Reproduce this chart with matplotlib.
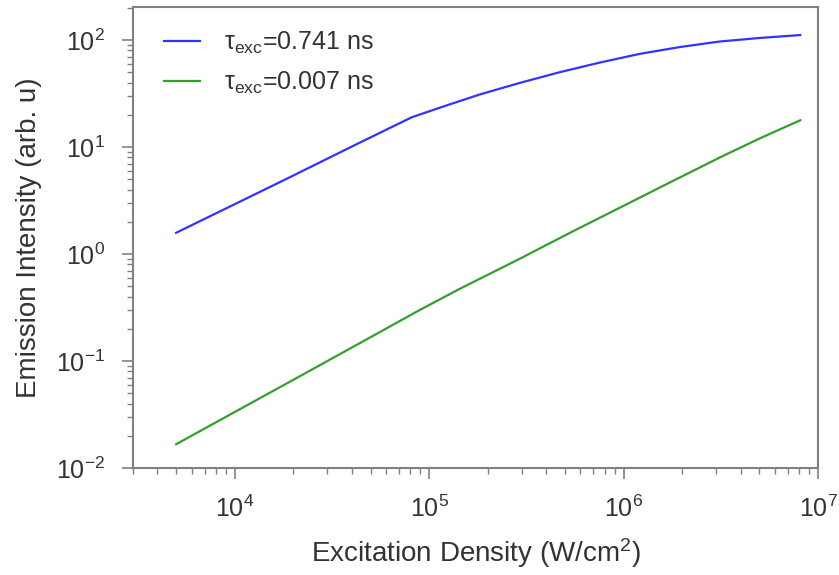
import matplotlib
matplotlib.use("Agg")
import matplotlib.pyplot as plt
from matplotlib.ticker import LogLocator, NullFormatter

plt.rcParams['font.family'] = ['Liberation Sans', 'DejaVu Sans']
plt.rcParams['mathtext.fontset'] = 'custom'
plt.rcParams['mathtext.rm'] = 'Liberation Sans'
plt.rcParams['mathtext.it'] = 'Liberation Sans'
plt.rcParams['mathtext.bf'] = 'Liberation Sans:bold'
plt.rcParams['axes.unicode_minus'] = False

# excitation density (W/cm^2) and emission intensity (arb. u)
dens_long = [5.0e3, 1.83e4, 4.4e4, 8.15e4, 1.14e5, 1.82e5, 2.93e5, 4.7e5,
             7.57e5, 1.22e6, 1.95e6, 3.13e6, 5.04e6, 8.1e6]
emis_long = [1.58, 5.0, 11.0, 19.0, 23.4, 31.0, 39.8, 50.1,
             61.7, 74.5, 86.1, 97.0, 104.7, 111.4]

dens_short = [5.0e3, 2.43e4, 8.95e4, 1.44e5, 2.93e5, 5.3e5, 9.6e5, 1.73e6,
              3.13e6, 5.04e6, 8.1e6]
emis_short = [0.0167, 0.081, 0.30, 0.474, 0.905, 1.58, 2.72, 4.67,
              8.0, 12.1, 17.8]

labels = [r"τ$_{\rm exc}$=0.741 ns", r"τ$_{\rm exc}$=0.007 ns"]
colors = ['#3333ff', '#33a02c']

txt = '#333333'
edge = '#808080'

fig = plt.figure(figsize=(8.39, 5.75), dpi=100)
ax = fig.add_axes([0.1585, 0.186, 0.8165, 0.802])

ax.plot(dens_long, emis_long, color=colors[0], lw=1.6, label=labels[0])
ax.plot(dens_short, emis_short, color=colors[1], lw=1.6, label=labels[1])

ax.set_xscale('log')
ax.set_yscale('log')
ax.set_xlim(3000, 1e7)
ax.set_ylim(1e-2, 10 ** 2.31)

ax.xaxis.set_minor_locator(LogLocator(base=10, subs=range(2, 10), numticks=20))
ax.yaxis.set_minor_locator(LogLocator(base=10, subs=range(2, 10), numticks=20))
ax.xaxis.set_minor_formatter(NullFormatter())
ax.yaxis.set_minor_formatter(NullFormatter())

for s in ax.spines.values():
    s.set_color(edge)
    s.set_linewidth(1.5)
ax.tick_params(which='major', direction='out', length=8, width=1.2,
               color=edge, labelsize=18, labelcolor=txt)
ax.tick_params(axis='x', which='major', pad=12)
ax.tick_params(axis='y', which='major', pad=12)
ax.tick_params(which='minor', direction='out', length=4, width=1.0, color=edge)

ax.set_xlabel('Excitation Density (W/cm$^2$)', fontsize=20, color=txt, labelpad=10)
ax.set_ylabel('Emission Intensity (arb. u)', fontsize=20, color=txt, labelpad=10)

leg = ax.legend(loc='upper left', frameon=False, fontsize=18, handlelength=1.45,
                handletextpad=0.95, labelspacing=0.55,
                bbox_to_anchor=(0.012, 1.0), labelcolor=txt)

fig.savefig('out.png', dpi=100)
